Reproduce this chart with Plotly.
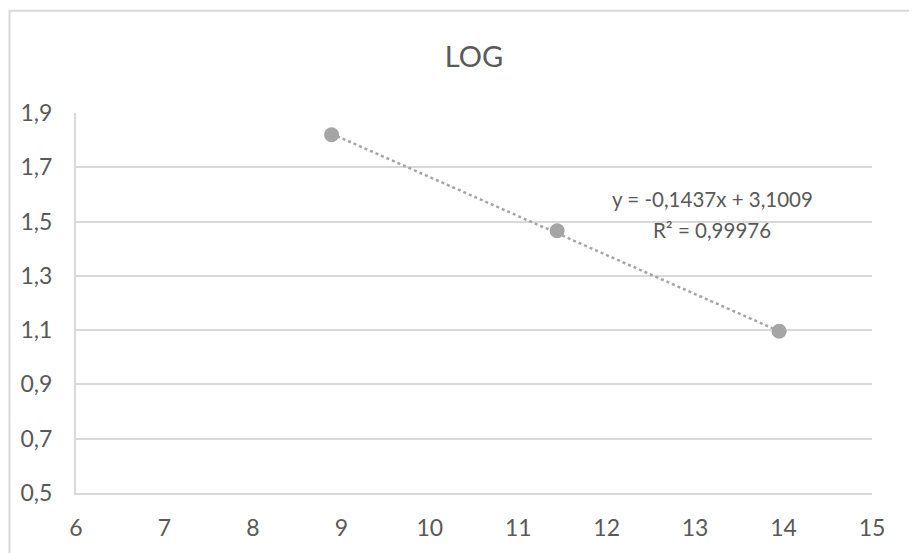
import plotly.graph_objects as go

# Data
x_vals = [8.89, 11.44, 13.95]
y_vals = [1.82, 1.466, 1.096]
slope = -0.1437
intercept = 3.1009
r2_text = "0,99976"
eq_text = "y = -0,1437x + 3,1009"
title_text = "LOG"
y_ticks = [0.5, 0.7, 0.9, 1.1, 1.3, 1.5, 1.7, 1.9]
x_ticks = list(range(6, 16))

# page has an 8px body margin; figure sized to fit the window
OFF = 8
W, H = 917 - OFF, 553 - OFF
ML, MR, MT, MB = 76 - OFF, 45, 113 - OFF, 57
pw, ph = W - ML - MR, H - MT - MB

def px2paper_x(px):  # page px -> paper
    return (px - OFF - ML) / pw

def px2paper_y(py):
    return (H - MB - (py - OFF)) / ph

font = "Lato"
txt = "#595959"

trend_x = [min(x_vals), max(x_vals)]
trend_y = [slope * v + intercept for v in trend_x]

fig = go.Figure()
fig.add_trace(go.Scatter(x=trend_x, y=trend_y, mode="lines",
                         line=dict(color="#a5a5a5", width=2.5, dash="dot"),
                         showlegend=False, hoverinfo="skip"))
fig.add_trace(go.Scatter(x=x_vals, y=y_vals, mode="markers",
                         marker=dict(color="#a5a5a5", size=15),
                         showlegend=False))

fig.update_layout(
    width=W, height=H,
    margin=dict(l=ML, r=MR, t=MT, b=MB),
    paper_bgcolor="white", plot_bgcolor="white",
    separators=", ",
    font=dict(family=font, color=txt),
    title=dict(text=title_text, x=0.5, xanchor="center", y=1 - (57 - OFF) / H, yanchor="middle",
               xref="paper", font=dict(size=29, color=txt, family=font)),
    xaxis=dict(range=[6, 15], tickvals=x_ticks, showgrid=False, zeroline=False,
               showline=True, linecolor="#d9d9d9", linewidth=2,
               ticks="", tickfont=dict(size=23, color=txt), ticklabelstandoff=13),
    yaxis=dict(range=[0.5, 1.9], tickvals=y_ticks, tickformat=".1f",
               showgrid=True, gridcolor="#d9d9d9", gridwidth=2, zeroline=False,
               showline=True, linecolor="#d9d9d9", linewidth=2,
               ticks="", tickfont=dict(size=23, color=txt), ticklabelstandoff=17),
    annotations=[
        dict(text=eq_text, x=px2paper_x(712), y=px2paper_y(200), xref="paper", yref="paper",
             showarrow=False, xanchor="center", yanchor="middle",
             font=dict(size=20.5, color=txt, family=font)),
        dict(text="R² = " + r2_text, x=px2paper_x(712), y=px2paper_y(231), xref="paper", yref="paper",
             showarrow=False, xanchor="center", yanchor="middle",
             font=dict(size=20.5, color=txt, family=font)),
    ],
    shapes=[
        dict(type="rect", xref="paper", yref="paper",
             x0=px2paper_x(9.5), x1=px2paper_x(915), y0=px2paper_y(600), y1=px2paper_y(10),
             line=dict(color="#d9d9d9", width=2), fillcolor="rgba(0,0,0,0)", layer="below"),
    ],
)

fig.write_html("out.html")
